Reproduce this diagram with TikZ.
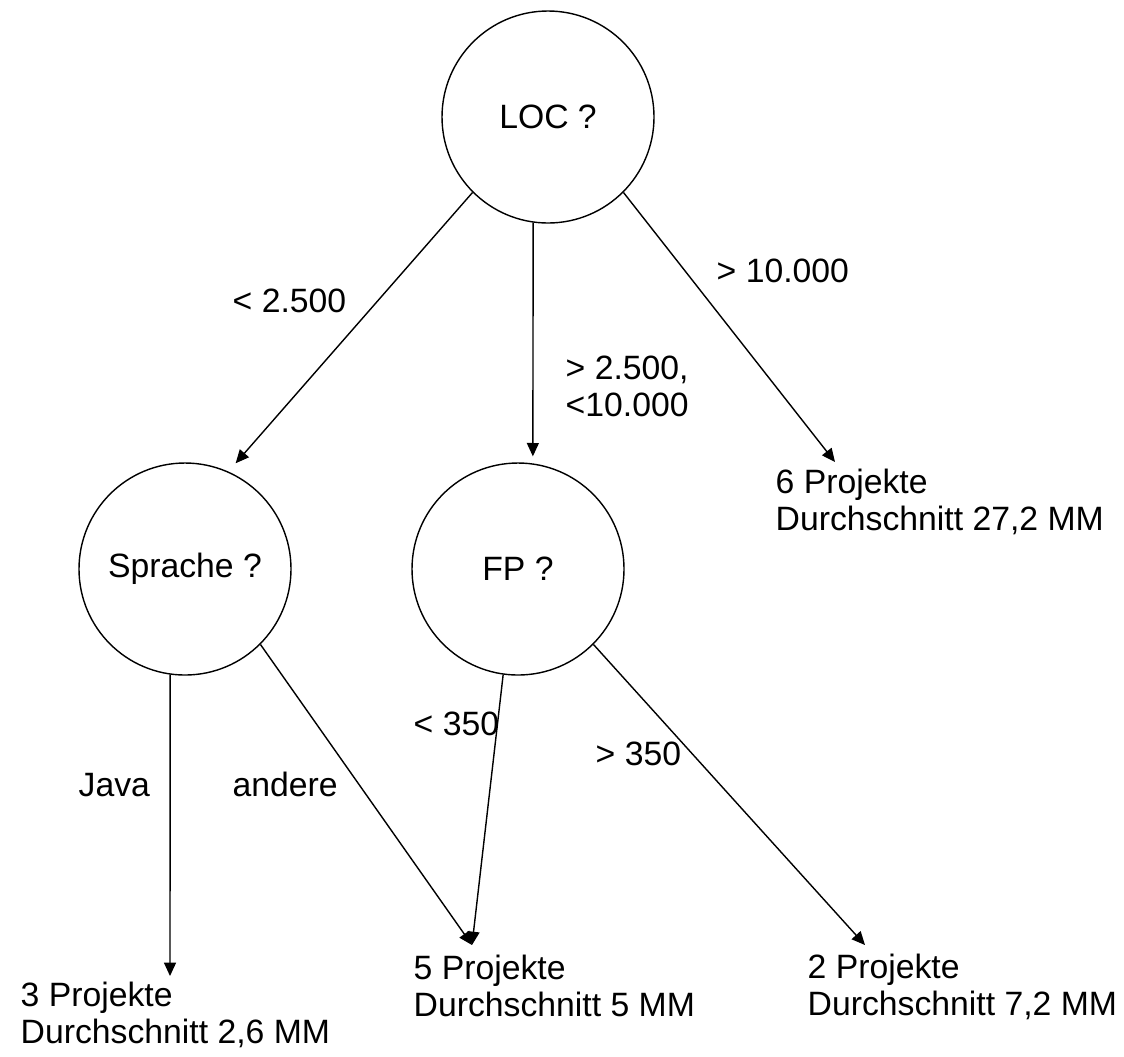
\documentclass[tikz,border=0pt]{standalone}
\usepackage{fontspec}
\setmainfont{Liberation Sans}
\usetikzlibrary{arrows.meta}

\begin{document}
\begin{tikzpicture}[>={Triangle[length=3.8pt,width=3.4pt]},line width=0.4pt,
    font=\fontsize{9.6}{10.5}\selectfont]
  \tikzset{
    test/.style={circle,draw,minimum size=2.12cm,inner sep=0pt},
    cond/.style={anchor=base west,inner sep=0pt},
    leaf/.style={anchor=base west,align=left,inner sep=0pt},
    branch/.style={->}
  }
  \useasboundingbox (0,0) rectangle (11.24,-10.56);

  \node[test] (loc) at (5.48,-1.17) {LOC ?};
  \node[test] (sprache) at (1.85,-5.69) {Sprache ?};
  \node[test] (fp) at (5.18,-5.69) {FP ?};

  \node[leaf] (leafsix) at (7.75,-5.30) {6 Projekte\\Durchschnitt 27,2 MM};
  \node[leaf] (leafthree) at (0.20,-10.43) {3 Projekte\\Durchschnitt 2,6 MM};
  \node[leaf] (leaffive) at (4.13,-10.16) {5 Projekte\\Durchschnitt 5 MM};
  \node[leaf] (leaftwo) at (8.07,-10.15) {2 Projekte\\Durchschnitt 7,2 MM};

  \coordinate (tipsix) at (8.35,-4.62);
  \coordinate (tipthree) at (1.70,-9.76);
  \coordinate (tipfive) at (4.72,-9.45);
  \coordinate (tiptwo) at (8.65,-9.45);

  \draw[branch,shorten >=0.11cm] (loc.225) -- (sprache.66);
  \draw[branch,shorten >=0.07cm] (loc.262) -- (fp.82);
  \draw[branch] (loc.315) -- (tipsix);
  \draw[branch] (sprache.262) -- (tipthree);
  \draw[branch] (sprache.315) -- (tipfive);
  \draw[branch] (fp.262) -- (tipfive);
  \draw[branch] (fp.315) -- (tiptwo);

  \node[cond] (ltlow) at (2.32,-3.12) {< 2.500};
  \node[cond,align=left] (between) at (5.65,-4.16) {> 2.500,\\<10.000};
  \node[cond] (gthigh) at (7.16,-2.82) {> 10.000};
  \node[cond] (java) at (0.78,-7.96) {Java};
  \node[cond] (andere) at (2.32,-7.96) {andere};
  \node[cond] (ltfp) at (4.13,-7.35) {< 350};
  \node[cond] (gtfp) at (5.95,-7.65) {> 350};
\end{tikzpicture}
\end{document}
